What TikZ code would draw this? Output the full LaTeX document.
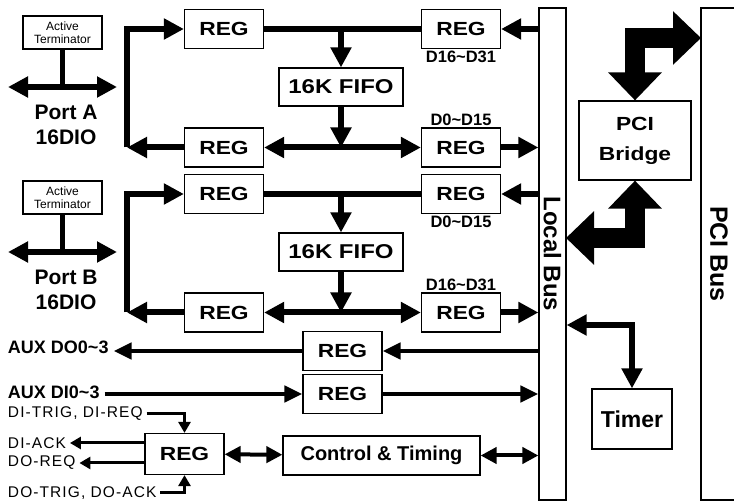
\documentclass[tikz,border=0pt]{standalone}
\usepackage{fontspec}
\setmainfont{Liberation Sans}
\newfontfamily\widefont{Liberation Sans}[FakeStretch=1.2]
\usetikzlibrary{arrows.meta}

\tikzset{
  box/.style={draw, line width=1.2pt, fill=white, inner sep=0pt, align=center},
  regbox/.style={box, minimum width=79pt, minimum height=39pt, font=\widefont\bfseries\fontsize{19}{19}\selectfont},
  big/.style={font=\bfseries\fontsize{21}{25}\selectfont, align=center},
  dlbl/.style={font=\bfseries\fontsize{16.5}{16.5}\selectfont, inner sep=1pt},
  sigtxt/.style={font=\fontsize{15.5}{15.5}\selectfont\addfontfeature{LetterSpace=7}, anchor=west, inner sep=0pt, outer sep=4pt},
  auxtxt/.style={font=\bfseries\fontsize{18}{18}\selectfont, anchor=west, inner sep=0pt, outer sep=5pt},
  bus/.style={line width=6pt, >={Triangle[width=20pt,length=20pt]}},
  aux/.style={line width=4.5pt, >={Triangle[width=16pt,length=18pt]}},
  ctl/.style={line width=4pt, >={Triangle[width=16pt,length=16pt]}},
  sig/.style={line width=3pt, >={Triangle[width=12pt,length=11pt]}},
  fat/.style={line width=20pt, line join=miter, >={Triangle[width=52pt,length=28pt]}}
}

\begin{document}
\begin{tikzpicture}[x=1pt, y=-1pt]
    \useasboundingbox (0,0) rectangle (734,502);

    % Buses
    \node[box, minimum width=27pt, minimum height=492pt,
          label={[rotate=-90, big, font=\bfseries\fontsize{24}{24}\selectfont]center:Local Bus}] (lbus) at (552.5,254) {};
    \node[box, minimum width=36pt, minimum height=492pt,
          label={[rotate=-90, big, font=\bfseries\fontsize{25}{25}\selectfont]center:PCI Bus}] (pcibus) at (719,254) {};

    % PCI bridge and timer
    \node[box, minimum width=112pt, minimum height=79pt, font=\widefont\bfseries\fontsize{19}{30}\selectfont] (bridge) at (635,140.5) {PCI\\Bridge};
    \node[box, minimum width=80pt, minimum height=60pt, font=\bfseries\fontsize{23}{23}\selectfont] (timer) at (632,419) {Timer};
    \coordinate (pcitop) at (701,38);
    \coordinate (lbusmid) at (566,238);
    \draw[fat,<->] (bridge.north) |- (pcitop);
    \draw[fat,<->] (bridge.south) |- (lbusmid);
    \draw[bus,<->] (lbus.east |- 0,325) -| (timer.north);

    % Port A and Port B
    \foreach \p/\dy/\toplbl/\botlbl in {A/0/D16\textasciitilde D31/D0\textasciitilde D15,
                                        B/165/D0\textasciitilde D15/D16\textasciitilde D31} {
        \node[box, minimum width=79pt, minimum height=33pt, font=\fontsize{12}{13}\selectfont] (term\p) at (62.5,32.5+\dy) {Active\\Terminator};
        \node[big] (port\p) at (66,125+\dy) {Port \p\\16DIO};
        \coordinate (pl\p) at (8,87+\dy);
        \coordinate (pr\p) at (117,87+\dy);
        \coordinate (jn\p) at (127,147.5+\dy);
        \node[regbox] (regU\p) at (224,29+\dy) {REG};
        \node[regbox] (regL\p) at (224,147.5+\dy) {REG};
        \node[regbox] (regR\p) at (461,29+\dy) {REG};
        \node[regbox] (regS\p) at (461,147.5+\dy) {REG};
        \node[box, minimum width=124pt, minimum height=38pt, font=\widefont\bfseries\fontsize{20}{20}\selectfont] (fifo\p) at (341,87+\dy) {16K FIFO};
        \node[dlbl, below=1pt] (hi\p) at (regR\p.south) {\toplbl};
        \node[dlbl, above=1pt] (lo\p) at (regS\p.north) {\botlbl};

        \draw[line width=4.5pt] (term\p) -- (term\p.south |- pl\p);
        \draw[bus,<->] (pl\p) -- (pr\p);
        \draw[bus,->] (jn\p) |- (regU\p);
        \draw[bus,->] (regL\p) -- (jn\p);
        \draw[bus] (regU\p) -- (regR\p);
        \draw[bus,->] (lbus.west |- regR\p) -- (regR\p);
        \draw[bus,->] (fifo\p.north |- regU\p) -- (fifo\p);
        \draw[bus,->] (fifo\p) -- (fifo\p.south |- regL\p);
        \draw[bus,<->] (regL\p) -- (regS\p);
        \draw[bus,->] (regS\p) -- (lbus.west |- regS\p);
    }

    % AUX lines
    \node[regbox] (regDO) at (342.5,351) {REG};
    \node[regbox] (regDI) at (342.5,394) {REG};
    \node[auxtxt] (auxdo) at (3,347) {AUX DO0\textasciitilde 3};
    \node[auxtxt] (auxdi) at (3,392) {AUX DI0\textasciitilde 3};
    \draw[aux,->] (lbus.west |- regDO) -- (regDO);
    \draw[aux,->] (regDO) -- (auxdo.east |- regDO);
    \draw[aux,->] (auxdi.east |- regDI) -- (regDI);
    \draw[aux,->] (regDI) -- (lbus.west |- regDI);

    % Control section
    \node[regbox, minimum height=41pt] (regC) at (184.5,454) {REG};
    \node[box, minimum width=197pt, minimum height=39pt, font=\bfseries\fontsize{20}{20}\selectfont] (ctl) at (381.5,455.5) {Control \& Timing};
    \node[sigtxt] (ditrig) at (4,414) {DI-TRIG, DI-REQ};
    \node[sigtxt] (diack) at (4,443) {DI-ACK};
    \node[sigtxt] (doreq) at (4,463) {DO-REQ};
    \node[sigtxt] (dotrig) at (4,493) {DO-TRIG, DO-ACK};
    \draw[sig,->] (ditrig) -| (regC);
    \draw[sig,->] (regC.west |- diack) -- (diack);
    \draw[sig,->] (regC.west |- doreq) -- (doreq);
    \draw[sig,->] (dotrig) -| (regC);
    \draw[ctl,<->] (regC) -- (ctl);
    \draw[ctl,<->] (ctl) -- (lbus.west |- ctl);
\end{tikzpicture}
\end{document}
